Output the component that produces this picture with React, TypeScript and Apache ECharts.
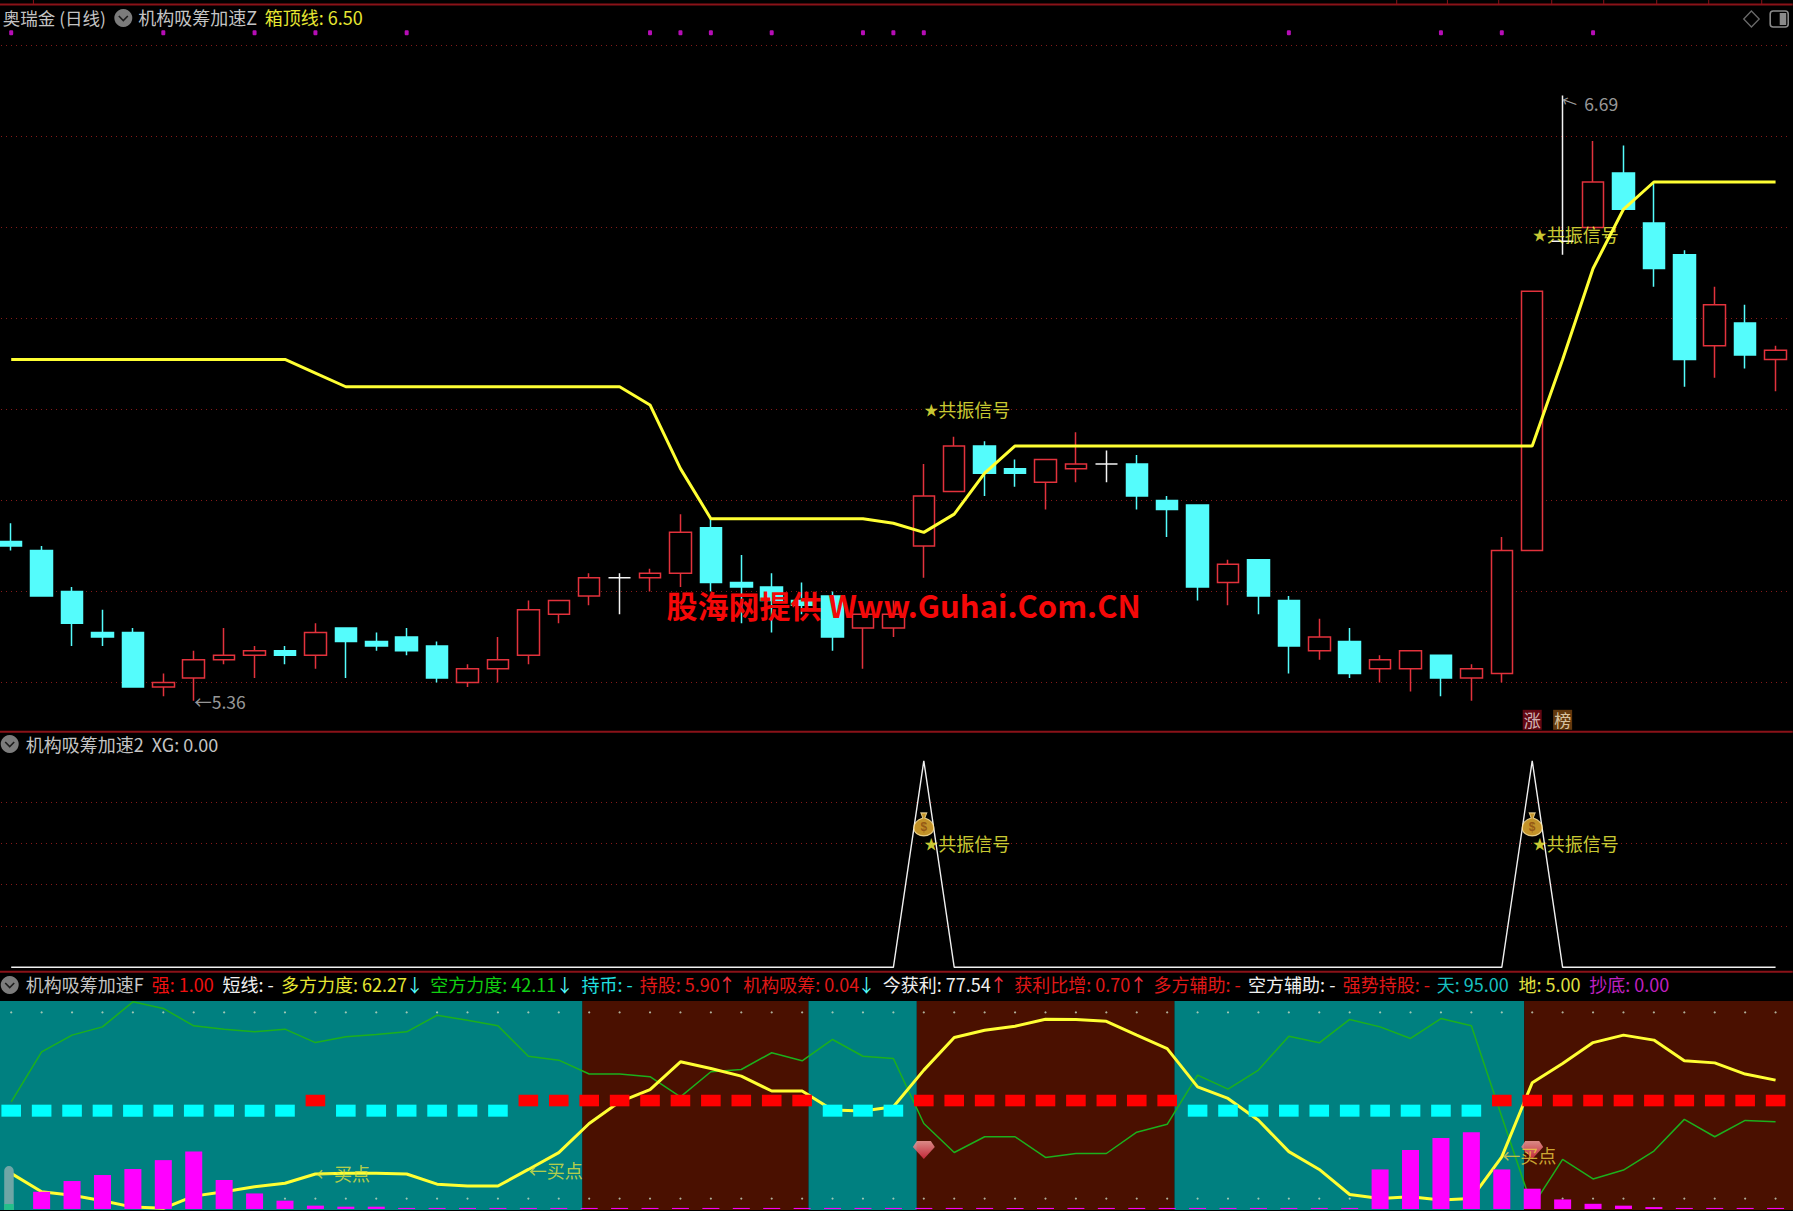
import React, { useEffect, useRef } from "react";
import * as echarts from "echarts";

// ---------- data ----------
const candleOpen = [5.71,5.69,5.60,5.51,5.51,5.39,5.41,5.45,5.46,5.47,5.46,5.52,5.49,5.50,5.48,5.40,5.43,5.46,5.55,5.59,5.63,5.63,5.64,5.74,5.62,5.61,5.58,5.59,5.52,5.52,5.70,5.82,5.92,5.87,5.84,5.87,5.88,5.88,5.80,5.79,5.62,5.67,5.58,5.47,5.49,5.43,5.43,5.46,5.41,5.42,5.69,6.37,6.40,6.52,6.41,6.34,6.14,6.19,6.11];
const candleClose = [5.70,5.59,5.53,5.50,5.39,5.40,5.45,5.46,5.47,5.46,5.51,5.49,5.48,5.47,5.41,5.43,5.45,5.56,5.58,5.63,5.63,5.64,5.73,5.62,5.61,5.58,5.57,5.50,5.55,5.55,5.81,5.92,5.86,5.86,5.89,5.88,5.88,5.81,5.78,5.61,5.66,5.59,5.48,5.50,5.42,5.45,5.47,5.41,5.43,5.69,6.26,6.37,6.50,6.44,6.31,6.11,6.23,6.12,6.13];
const candleLow = [5.69,5.59,5.48,5.48,5.39,5.37,5.36,5.44,5.41,5.44,5.43,5.41,5.47,5.46,5.40,5.39,5.40,5.44,5.53,5.57,5.55,5.60,5.61,5.60,5.53,5.51,5.55,5.47,5.43,5.50,5.63,5.82,5.81,5.83,5.78,5.84,5.84,5.78,5.72,5.58,5.57,5.55,5.42,5.45,5.41,5.40,5.38,5.37,5.36,5.40,5.69,6.34,6.40,6.44,6.27,6.05,6.07,6.09,6.04];
const candleHigh = [5.75,5.70,5.61,5.56,5.52,5.42,5.47,5.52,5.48,5.48,5.53,5.52,5.51,5.52,5.49,5.44,5.50,5.58,5.58,5.64,5.64,5.65,5.77,5.76,5.68,5.64,5.62,5.60,5.57,5.58,5.88,5.94,5.93,5.89,5.89,5.95,5.91,5.90,5.81,5.79,5.67,5.67,5.59,5.54,5.52,5.46,5.47,5.46,5.44,5.72,6.26,6.69,6.59,6.58,6.50,6.35,6.27,6.23,6.14];
const boxTop = [6.11,6.11,6.11,6.11,6.11,6.11,6.11,6.11,6.11,6.11,6.08,6.05,6.05,6.05,6.05,6.05,6.05,6.05,6.05,6.05,6.05,6.01,5.87,5.76,5.76,5.76,5.76,5.76,5.76,5.75,5.73,5.77,5.86,5.92,5.92,5.92,5.92,5.92,5.92,5.92,5.92,5.92,5.92,5.92,5.92,5.92,5.92,5.92,5.92,5.92,5.92,6.11,6.31,6.44,6.50,6.50,6.50,6.50,6.50];
const xgValues = [0,0,0,0,0,0,0,0,0,0,0,0,0,0,0,0,0,0,0,0,0,0,0,0,0,0,0,0,0,0,100,0,0,0,0,0,0,0,0,0,0,0,0,0,0,0,0,0,0,0,100,0,0,0,0,0,0,0,0];
const bullForce = [17.2,8.3,6.6,4.0,0.9,0.3,6.2,8.3,10.7,12.4,16.9,17.2,17.2,16.9,12.0,11.1,11.1,19.1,27.2,41.3,51.8,57.7,71.1,67.9,64.2,57.0,57.0,47.8,47.3,49.4,67.1,82.9,86.4,88.3,91.7,91.6,90.7,84.0,77.5,59.0,53.4,42.9,27.7,19.1,7.0,5.1,5.9,4.3,5.1,25.2,61.0,70.3,80.4,84.0,81.6,71.6,70.6,65.2,62.27];
const bearForce = [51.8,75.9,84.0,88.0,100.1,96.9,88.5,86.9,85.6,86.9,80.4,83.2,84.3,85.6,93.6,91.2,88.5,73.8,71.9,65.2,65.2,63.9,54.2,66.3,67.4,75.5,71.6,81.9,73.8,72.7,41.3,27.3,34.9,34.9,24.9,26.8,26.8,37.1,40.9,64.7,57.9,67.1,83.5,80.3,91.6,88.0,82.4,92.0,88.5,44.6,1.1,24.0,14.5,18.8,28.0,43.3,34.9,42.8,42.11];
const bottomBars = [0,8.3,13.5,16.4,19.3,23.6,27.8,14.0,7.5,4.0,1.6,1.1,1.1,0.5,0.5,0.5,0.5,0.5,0.5,0.5,0.5,0.5,0.5,0.5,0.5,0.5,0.5,0.5,0.5,0.5,0.5,0.5,0.5,0.5,0.5,0.5,0.5,0.5,0.5,0.5,0.5,0.5,0.5,0.5,0.5,19.1,28.5,34.3,37.1,19.1,9.8,4.6,2.5,1.6,0.9,0.5,0.5,0.5,0.5];
const cyanDashDays = [0,1,2,3,4,5,6,7,8,9,11,12,13,14,15,16,27,28,29,39,40,41,42,43,44,45,46,47,48];
const redDashDays = [10,17,18,19,20,21,22,23,24,25,26,30,31,32,33,34,35,36,37,38,49,50,51,52,53,54,55,56,57,58];
const dotDays = [0,5,8,10,13,21,22,23,25,28,29,30,42,47,49,52];
const bandEdges = [-0.5,18.78,26.21,29.77,38.24,49.74,58.7];
const SKY = 95;
const GROUND = 5;
const categories = candleOpen.map((_, i) => `D${i + 1}`);

// ---------- style / layout ----------
const CJK = '"Noto Sans CJK SC", "Noto Sans", sans-serif';
const RED = "#e2323c";
const CYAN = "#54fcfc";
const YELLOW = "#ffff33";
const GOLD = "#ffff40";
const BANDW = 30.42;
const SHIFT = BANDW / 2 - 11.5; // the first half day lies off the left page edge
const WIDTH = BANDW * 59;

const header = [
  ["奥瑞金 (日线)", 3, 17, "#c4c4c4", 17.5],
  ["机构吸筹加速Z", 138.5, 17, "#c4c4c4", 18],
  ["箱顶线: 6.50", 265, 17, "#e6e632", 18],
  ["机构吸筹加速2  XG: 0.00", 26, 744, "#c4c4c4", 18],
  ["机构吸筹加速F", 26, 984, "#c4c4c4", 18],
  ["强: 1.00", 152, 984, "#f01010", 18],
  ["短线: -", 222.7, 984, "#f0f0f0", 18],
  ["多方力度: 62.27", 281.3, 984, "#e6e632", 18],
  ["↓", 406, 984, CYAN, 18],
  ["空方力度: 42.11", 430.5, 984, "#10d010", 18],
  ["↓", 556, 984, CYAN, 18],
  ["持币: -", 581.7, 984, "#20e0e0", 18],
  ["持股: 5.90", 640, 984, "#e01818", 18],
  ["↑", 718.4, 984, "#f03040", 18],
  ["机构吸筹: 0.04", 743.5, 984, "#e01818", 18],
  ["↓", 857.7, 984, CYAN, 18],
  ["今获利: 77.54", 883, 984, "#f0f0f0", 18],
  ["↑", 989.8, 984, "#f03040", 18],
  ["获利比增: 0.70", 1014.5, 984, "#e01818", 18],
  ["↑", 1129.8, 984, "#f03040", 18],
  ["多方辅助: -", 1153.8, 984, "#e01818", 18],
  ["空方辅助: -", 1248.4, 984, "#f0f0f0", 18],
  ["强势持股: -", 1343, 984, "#e01818", 18],
  ["天: 95.00", 1437, 984, "#18c0c0", 18],
  ["地: 5.00", 1518.8, 984, "#e0e040", 18],
  ["抄底: 0.00", 1589.6, 984, "#c020c0", 18],
] as const;

const topTicks = [33.7, 1397, 1447.7, 1499, 1552, 1604, 1657, 1709, 1762];
const panelLines = [4.5, 731.7, 971.7];

const BAG = "path://M7 0 L13 0 L11 5 C17 7 20 11 20 15 C20 20 15 23 10 23 C5 23 0 20 0 15 C0 11 3 7 9 5 Z";
const GEM = "path://M4 0 L18 0 L22 6 L11 18 L0 6 Z";

function chevron(cx: number, cy: number) {
  return [
    { type: "circle", shape: { cx, cy, r: 9 }, style: { fill: "#7c7c7c" }, silent: true },
    {
      type: "polyline",
      shape: { points: [[cx - 4.5, cy - 2], [cx, cy + 2.5], [cx + 4.5, cy - 2]] },
      style: { stroke: "#1c1c1c", lineWidth: 1.6, fill: "none" },
      silent: true,
    },
  ];
}

const hidden = { color: "transparent" };

function textPoint(x: number, y: number, text: string, fill: string, size: number, extra: any = {}) {
  return {
    value: [x, y],
    symbolSize: 1,
    itemStyle: hidden,
    label: { show: true, formatter: text, color: fill, fontSize: size, fontFamily: CJK, position: "right", distance: 0, ...extra },
  };
}

const signalRich = {
  rich: {
    s: { fontSize: 14, color: GOLD, fontFamily: CJK },
    t: { fontSize: 18, color: GOLD, fontFamily: CJK },
  },
};
const SIGNAL = "{s|★}{t|共振信号}";

function buildOption() {
  const idx = categories.map((_, i) => i);
  const candles = idx.map((i) => [candleOpen[i], candleClose[i], candleLow[i], candleHigh[i]]);
  const dashRender = (fill: string) => (_: any, api: any) => {
    const x = api.value(0);
    const lo = api.coord([x, api.value(1)]);
    const hi = api.coord([x, api.value(2)]);
    return { type: "rect", shape: { x: lo[0] - 9.8, y: hi[1], width: 19.6, height: lo[1] - hi[1] }, style: { fill } };
  };
  const bands = bandEdges.slice(0, -1).map((e, i) => [e, bandEdges[i + 1], i % 2]);

  const graphic: any[] = [];
  panelLines.forEach((y) =>
    graphic.push({ type: "line", shape: { x1: 0, y1: y, x2: 1793, y2: y }, style: { stroke: "#8a1218", lineWidth: 2 }, silent: true })
  );
  topTicks.forEach((x) =>
    graphic.push({ type: "line", shape: { x1: x, y1: 0, x2: x, y2: 4 }, style: { stroke: "#8a1218", lineWidth: 1 }, silent: true })
  );
  graphic.push(...chevron(123.6, 18), ...chevron(10, 744), ...chevron(10, 985));
  header.forEach(([text, x, y, fill, size]) =>
    graphic.push({ type: "text", x, y, silent: true, style: { text, fill, font: `${size}px ${CJK}`, verticalAlign: "middle" } })
  );
  graphic.push(
    { type: "polygon", shape: { points: [[1751.7, 11], [1759.5, 19], [1751.7, 27], [1744, 19]] }, style: { stroke: "#6a6a6a", fill: "none", lineWidth: 1.3 }, silent: true },
    { type: "rect", shape: { x: 1770.5, y: 11, width: 18, height: 16, r: 3 }, style: { stroke: "#8a8a8a", fill: "none", lineWidth: 1.6 }, silent: true },
    { type: "rect", shape: { x: 1780, y: 13, width: 6.5, height: 12 }, style: { fill: "#8a8a8a" }, silent: true },
    { type: "rect", z: 50, shape: { x: 4.5, y: 1166, width: 9.5, height: 44, r: [5, 5, 0, 0] }, style: { fill: "#6fa6a6" }, silent: true },
    { type: "rect", z: 51, shape: { x: 4.5, y: 1204, width: 9.5, height: 6 }, style: { fill: "#24c08a" }, silent: true },
    {
      type: "text",
      x: 666.7,
      y: 604,
      z: 100,
      silent: true,
      style: { text: "股海网提供 Www.Guhai.Com.CN", fill: "#f40808", font: `bold 31px ${CJK}`, verticalAlign: "middle" },
    }
  );

  const splitLine = { show: true, lineStyle: { color: "#861a1a", type: [1, 4] as any, width: 1 }, showMinLine: true, showMaxLine: true };

  return {
    animation: false,
    backgroundColor: "#000",
    tooltip: { show: false },
    grid: [
      { left: 0, width: WIDTH, top: 45.5, height: 637 },
      { left: 0, width: WIDTH, top: 760.8, height: 206.5 },
      { left: 0, width: WIDTH, top: 1001, height: 209 },
    ],
    xAxis: [
      { type: "category", gridIndex: 0, data: categories, show: false },
      { type: "category", gridIndex: 1, data: categories, show: false },
      { type: "value", gridIndex: 2, min: -0.5, max: 58.5, show: false, splitLine: { show: false } },
    ],
    yAxis: [
      { type: "value", gridIndex: 0, min: 5.4, max: 6.8, interval: 0.2, axisLine: { show: false }, axisTick: { show: false }, axisLabel: { show: false }, splitLine },
      {
        type: "value", gridIndex: 1, min: 0, max: 100, interval: 20,
        axisLine: { show: false }, axisTick: { show: false }, axisLabel: { show: false },
        splitLine: { ...splitLine, showMinLine: false, showMaxLine: false },
      },
      { type: "value", gridIndex: 2, min: -0.5, max: 100.5, show: false, splitLine: { show: false } },
    ],
    graphic: [{ type: "group", x: SHIFT, y: 0, children: graphic }],
    series: [
      {
        type: "candlestick",
        xAxisIndex: 0,
        yAxisIndex: 0,
        clip: false,
        barWidth: 22,
        data: candles,
        itemStyle: { color: "#000", color0: CYAN, borderColor: RED, borderColor0: CYAN, borderColorDoji: "#f4f4f4", borderWidth: 1.5 },
        z: 3,
      },
      {
        type: "line",
        name: "箱顶线",
        xAxisIndex: 0,
        yAxisIndex: 0,
        data: boxTop,
        symbol: "none",
        lineStyle: { color: YELLOW, width: 3 },
        z: 4,
      },
      {
        type: "scatter",
        xAxisIndex: 0,
        yAxisIndex: 0,
        clip: false,
        symbol: "roundRect",
        symbolSize: [4, 5],
        data: dotDays.map((d) => [d, 6.828]),
        itemStyle: { color: "#e410e4" },
        z: 5,
      },
      {
        type: "scatter",
        xAxisIndex: 0,
        yAxisIndex: 0,
        clip: false,
        z: 6,
        data: [
          textPoint(30, 5.997, SIGNAL, GOLD, 18, { ...signalRich, offset: [0, -2] }),
          textPoint(50, 6.383, SIGNAL, GOLD, 18, { ...signalRich, offset: [0, -1] }),
          textPoint(6, 5.36, "←5.36", "#c0c0c0", 17.5, { offset: [0, 1] }),
          textPoint(51, 6.69, "6.69", "#c0c0c0", 17.5, { offset: [21, 8] }),
          textPoint(51, 6.69, "←", "#c8c8c8", 16, { offset: [0, 3], rotate: -20 }),
          textPoint(50, 5.318, "涨", "#f0e0e0", 17, { position: "inside", backgroundColor: "#7c0a18", padding: [1, 1], lineHeight: 18 }),
          textPoint(51, 5.318, "榜", "#f8e8c8", 17, { position: "inside", backgroundColor: "#7a4610", padding: [1, 1], lineHeight: 18 }),
        ],
      },
      {
        type: "line",
        name: "XG",
        xAxisIndex: 1,
        yAxisIndex: 1,
        data: xgValues,
        symbol: "none",
        lineStyle: { color: "#f0f0f0", width: 1.4 },
        z: 3,
      },
      {
        type: "scatter",
        xAxisIndex: 1,
        yAxisIndex: 1,
        clip: false,
        symbol: BAG,
        symbolSize: [20, 23],
        data: [[30, 69.2], [50, 69.2]],
        itemStyle: { color: "#f2b632", borderColor: "#ffe9a8", borderWidth: 1 },
        label: { show: true, formatter: "$", position: "inside", color: "#8a4a10", fontSize: 12, fontWeight: "bold", offset: [0, 3] },
        z: 5,
      },
      {
        type: "scatter",
        xAxisIndex: 1,
        yAxisIndex: 1,
        clip: false,
        z: 6,
        data: [
          textPoint(30, 59.6, SIGNAL, GOLD, 18, { ...signalRich, offset: [0, -1] }),
          textPoint(50, 59.6, SIGNAL, GOLD, 18, { ...signalRich, offset: [0, -1] }),
        ],
      },
      {
        type: "custom",
        xAxisIndex: 2,
        yAxisIndex: 2,
        z: 1,
        silent: true,
        data: bands,
        encode: { x: [0, 1], y: 2 },
        renderItem: (_: any, api: any) => {
          const a = api.coord([api.value(0), -0.5]);
          const b = api.coord([api.value(1), 100.5]);
          return {
            type: "rect",
            shape: { x: a[0], y: b[1], width: b[0] - a[0], height: a[1] - b[1] },
            style: { fill: api.value(2) ? "#4a1000" : "#008080" },
          };
        },
      },
      {
        type: "scatter",
        xAxisIndex: 2,
        yAxisIndex: 2,
        symbol: "circle",
        symbolSize: 2.2,
        data: idx.flatMap((i) => [[i, SKY], [i, GROUND]]),
        itemStyle: { color: "#c8d8c0" },
        z: 2,
      },
      {
        type: "bar",
        xAxisIndex: 2,
        yAxisIndex: 2,
        barWidth: 17,
        data: idx.map((i) => [i, bottomBars[i]]),
        itemStyle: { color: "#ff00ff" },
        z: 5,
      },
      {
        type: "line",
        name: "空方力度",
        xAxisIndex: 2,
        yAxisIndex: 2,
        data: idx.map((i) => [i, bearForce[i]]),
        symbol: "none",
        lineStyle: { color: "#1cb01c", width: 1.5 },
        z: 3,
      },
      {
        type: "line",
        name: "多方力度",
        xAxisIndex: 2,
        yAxisIndex: 2,
        data: idx.map((i) => [i, bullForce[i]]),
        symbol: "none",
        lineStyle: { color: YELLOW, width: 3 },
        z: 4,
      },
      {
        type: "custom",
        xAxisIndex: 2,
        yAxisIndex: 2,
        z: 6,
        silent: true,
        data: cyanDashDays.map((d) => [d, 44.6, 50.4]),
        encode: { x: 0, y: [1, 2] },
        renderItem: dashRender("#00ffff"),
      },
      {
        type: "custom",
        xAxisIndex: 2,
        yAxisIndex: 2,
        z: 6,
        silent: true,
        data: redDashDays.map((d) => [d, 49.6, 55.2]),
        encode: { x: 0, y: [1, 2] },
        renderItem: dashRender("#ff0000"),
      },
      {
        type: "scatter",
        xAxisIndex: 2,
        yAxisIndex: 2,
        clip: false,
        symbol: GEM,
        symbolSize: [22, 18],
        data: [[30, 28.5], [50, 28.5]],
        itemStyle: {
          color: {
            type: "linear", x: 0, y: 0, x2: 0, y2: 1,
            colorStops: [{ offset: 0, color: "#ffa8a8" }, { offset: 1, color: "#e02c44" }],
          },
        },
        z: 7,
      },
      {
        type: "scatter",
        xAxisIndex: 2,
        yAxisIndex: 2,
        clip: false,
        z: 8,
        data: [
          textPoint(10, 17.4, "←买点", "#e4e43c", 18),
          textPoint(17, 18.8, "←买点", "#e4e43c", 18),
          textPoint(49, 26, "←买点", "#f0d040", 18),
        ],
      },
    ],
  };
}

export default function App() {
  const ref = useRef<HTMLDivElement>(null);
  useEffect(() => {
    document.body.style.margin = "0";
    document.body.style.background = "#000";
    document.body.style.overflow = "hidden";
    const chart = echarts.init(ref.current!, undefined, { renderer: "svg" });
    chart.setOption(buildOption() as any);
    return () => chart.dispose();
  }, []);
  return <div ref={ref} style={{ position: "absolute", left: -SHIFT, top: 0, width: 1793 + SHIFT, height: 1211 }} />;
}
